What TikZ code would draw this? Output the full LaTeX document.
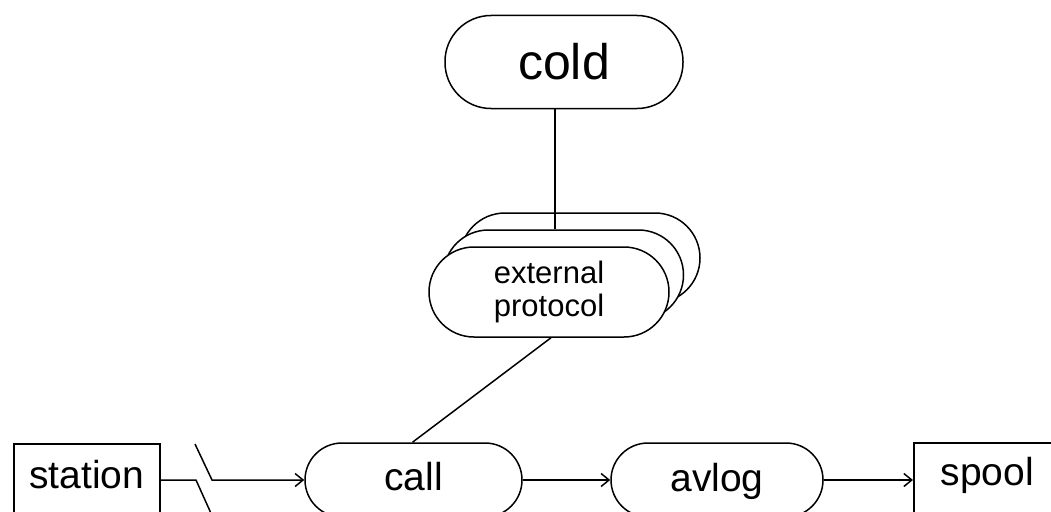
\documentclass[tikz,border=0pt]{standalone}
\usepackage{fontspec}
\setmainfont{Liberation Sans}
\usetikzlibrary{arrows.meta}
\tikzset{
  base/.style={line width=1.5pt},
  pill/.style={base, draw, fill=white, rounded corners=#1, inner sep=0pt},
  boxnode/.style={base, draw, inner sep=0pt, anchor=north west},
  conn/.style={base},
  arr/.style={base, -{Straight Barb[length=8pt,width=13pt,line width=1.5pt]}},
}
\begin{document}
\begin{tikzpicture}[x=1pt,y=-1pt]
\path[use as bounding box, clip] (0,0) rectangle (1051,511);
\fill[white] (0,0) rectangle (1051,511);

% cold
\node[pill=46pt, minimum width=238pt, minimum height=93pt, font=\fontsize{50}{54}\selectfont] (cold) at (564,62) {cold};

% external protocol stack
\node[pill=45pt, minimum width=240pt, minimum height=90pt] (ext3) at (580,258) {};
\node[pill=45pt, minimum width=240pt, minimum height=90pt] (ext2) at (563.5,275) {};
\node[pill=45pt, minimum width=240pt, minimum height=90pt, align=center, font=\fontsize{31}{33}\selectfont] (ext) at (549,292) {external\\protocol};

% bottom row
\node[pill=37pt, minimum width=217pt, minimum height=74pt, text depth=8pt, font=\fontsize{39}{42}\selectfont] (call) at (413.5,480) {call};
\node[pill=37pt, minimum width=212pt, minimum height=74pt, text depth=6pt, font=\fontsize{39}{42}\selectfont] (avlog) at (717,480) {avlog};
\node[boxnode, minimum width=146pt, text height=45pt, text depth=45pt, font=\fontsize{39}{42}\selectfont] (station) at (13,443) {station};
\node[boxnode, minimum width=147pt, text height=43pt, text depth=45pt, font=\fontsize{39}{42}\selectfont] (spool) at (913,442) {spool};

% connectors
\draw[conn] ([xshift=-9pt]cold.south) -- ([xshift=-9pt]cold.south |- ext2.north);
\draw[conn] ([xshift=2pt]ext.south) -- ([xshift=-1pt]call.north);

\coordinate (z1) at (196,480);
\coordinate (z2) at (214,520);
\coordinate (z3) at (195,444);
\coordinate (z4) at (212,480);
\draw[conn] (station.east |- call.west) -- (z1) -- (z2);
\draw[arr] (z3) -- (z4) -- (call.west);
\draw[arr] (call.east) -- (avlog.west);
\draw[arr] (avlog.east) -- (spool.west |- avlog.east);
\end{tikzpicture}
\end{document}
